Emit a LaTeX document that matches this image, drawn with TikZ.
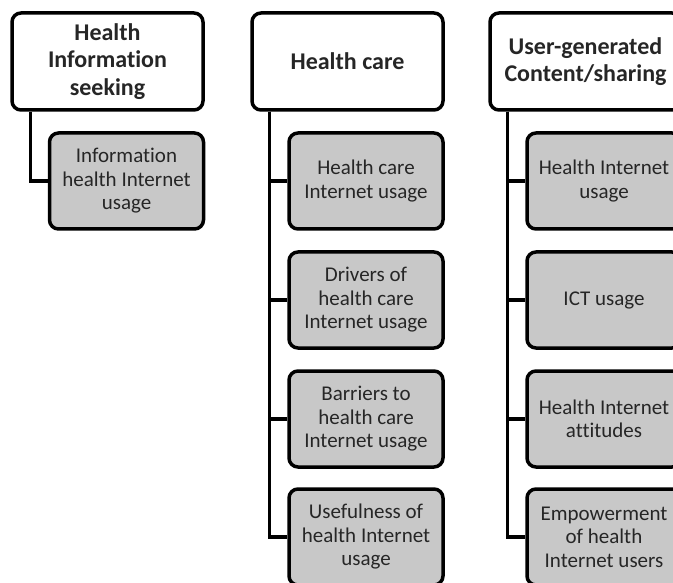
\documentclass[tikz,border=0pt]{standalone}
\usepackage{fontspec}
\setmainfont{Carlito}[Ligatures=NoCommon]
\definecolor{boxgray}{RGB}{200,200,200}
\begin{document}
\begin{tikzpicture}[x=1pt,y=-1pt,
    head/.style={draw, line width=3.5pt, rounded corners=9pt, fill=white,
      minimum width=191pt, minimum height=97pt, align=center, text=black!85,
      font=\bfseries\fontsize{24}{27.5}\selectfont},
    item/.style={draw, line width=3.5pt, rounded corners=9pt, fill=boxgray,
      minimum width=154pt, minimum height=96pt, align=center, text=black!85,
      font=\fontsize{21}{23.5}\selectfont},
    link/.style={line width=3.5pt}]
    \clip (0,0) rectangle (673,583);

    % first column
    \node[head] (seek) at (107.5,61.5) {Health\\Information\\seeking};
    \node[item] (seek1) at (126.5,181) {Information\\health Internet\\usage};

    % second column
    \node[head] (care) at (347.5,61.5) {Health care};
    \node[item] (care1) at (366,181) {Health care\\Internet usage};
    \node[item] (care2) at (366,300) {Drivers of\\health care\\Internet usage};
    \node[item] (care3) at (366,419) {Barriers to\\health care\\Internet usage};
    \node[item] (care4) at (366,537) {Usefulness of\\health Internet\\usage};

    % third column (cut off at the right)
    \node[head] (user) at (585.5,61.5) {User-generated\\Content/sharing};
    \node[item] (user1) at (604,181) {Health Internet\\usage};
    \node[item] (user2) at (604,300) {ICT usage};
    \node[item] (user3) at (604,419) {Health Internet\\attitudes};
    \node[item] (user4) at (604,537) {Empowerment\\of health\\Internet users};

    % tree lines
    \draw[link] ([xshift=20pt]seek.south west) |- (seek1.west);
    \foreach \i in {1,...,4} {
      \draw[link] ([xshift=19pt]care.south west) |- (care\i.west);
      \draw[link] ([xshift=19pt]user.south west) |- (user\i.west);
    }
\end{tikzpicture}
\end{document}
